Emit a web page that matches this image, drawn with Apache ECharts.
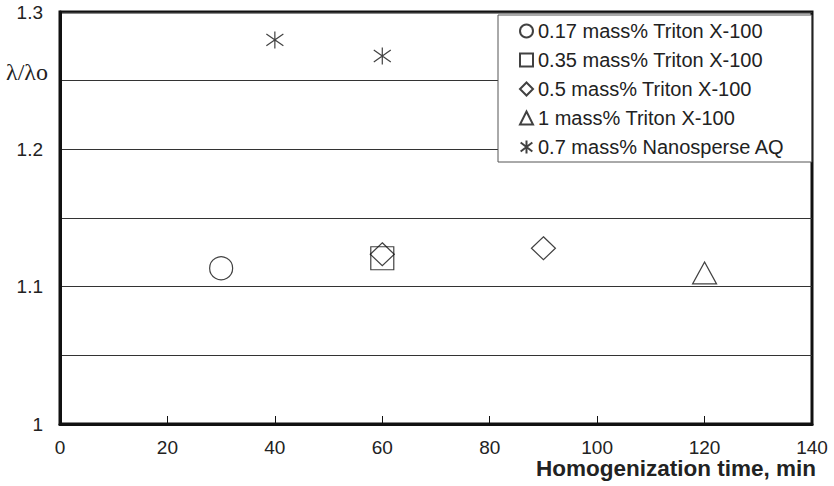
<!DOCTYPE html>
<html>
<head>
<meta charset="utf-8">
<script src="https://cdn.jsdelivr.net/npm/echarts@6/dist/echarts.min.js"></script>
<style>
html, body { margin: 0; padding: 0; background: #fff; }
#chart { width: 834px; height: 486px; }
</style>
</head>
<body>
<div id="chart"></div>
<script>
// values: [time (min), lambda / lambda0]
var names = [
    '0.17 mass% Triton X-100',
    '0.35 mass% Triton X-100',
    '0.5 mass% Triton X-100',
    '1 mass% Triton X-100',
    '0.7 mass% Nanosperse AQ'
];
var triton017 = [[30, 1.1134]];
var triton035 = [[60, 1.1207]];
var triton05 = [[60, 1.1236], [90, 1.128]];
var triton1 = [[120, 1.110]];
var nanosperse07 = [[40, 1.2797], [60, 1.268]];

var starPath = 'path://M10,0L10,20M1,3L19,17M19,3L1,17';

function hollow(name, data, symbol, size) {
    return {
        name: name,
        type: 'scatter',
        data: data,
        symbol: symbol,
        symbolSize: size,
        itemStyle: {
            color: 'rgba(255,255,255,0)',
            borderColor: '#111',
            borderWidth: 1.2
        },
        emphasis: { disabled: true }
    };
}

var dom = document.getElementById('chart');
var myChart = echarts.init(dom, null, { renderer: 'svg' });

var option = {
    animation: false,
    textStyle: { fontFamily: 'Liberation Sans' },
    grid: {
        left: 60, right: 22, top: 12, bottom: 62,
        show: true,
        borderColor: '#111',
        borderWidth: 3
    },
    legend: {
        orient: 'vertical',
        left: 498,
        top: 15,
        itemWidth: 13,
        itemHeight: 13,
        itemGap: 9,
        padding: [6, 27, 5, 21],
        backgroundColor: '#fff',
        borderColor: '#555',
        borderWidth: 1,
        textStyle: { fontSize: 20, lineHeight: 20, color: '#222', fontFamily: 'Liberation Sans' },
        data: names
    },
    xAxis: {
        type: 'value',
        min: 0,
        max: 140,
        interval: 20,
        axisLine: { show: true, lineStyle: { color: '#111', width: 3 } },
        axisTick: { show: true, inside: true, length: 8, lineStyle: { color: '#111', width: 1 } },
        axisLabel: { fontSize: 19, color: '#222', margin: 14 },
        splitLine: { show: false }
    },
    yAxis: {
        type: 'value',
        min: 1,
        max: 1.3,
        interval: 0.05,
        axisLine: { show: true, lineStyle: { color: '#111', width: 3 } },
        axisTick: { show: false },
        axisLabel: {
            fontSize: 19,
            color: '#222',
            margin: 17,
            formatter: function (v) {
                var k = Math.round(v * 100);
                if (k % 10 !== 0) return '';
                return String(k / 100);
            }
        },
        splitLine: { show: true, lineStyle: { color: '#333', width: 1 } }
    },
    graphic: [
        {
            type: 'text',
            left: 6,
            top: 60,
            style: {
                text: 'λ/λo',
                font: '24px "Liberation Serif"',
                fill: '#222'
            }
        },
        {
            type: 'text',
            right: 18,
            top: 457,
            style: {
                text: 'Homogenization time, min',
                font: 'bold 22.5px "Liberation Sans"',
                fill: '#222'
            }
        }
    ],
    series: [
        hollow(names[0], triton017, 'circle', 23),
        hollow(names[1], triton035, 'rect', 23),
        hollow(names[2], triton05, 'diamond', [24, 23]),
        hollow(names[3], triton1, 'triangle', [24, 22]),
        hollow(names[4], nanosperse07, starPath, 17)
    ]
};

if (option && typeof option === "object") {
    myChart.setOption(option, true);
}
</script>
</body>
</html>
